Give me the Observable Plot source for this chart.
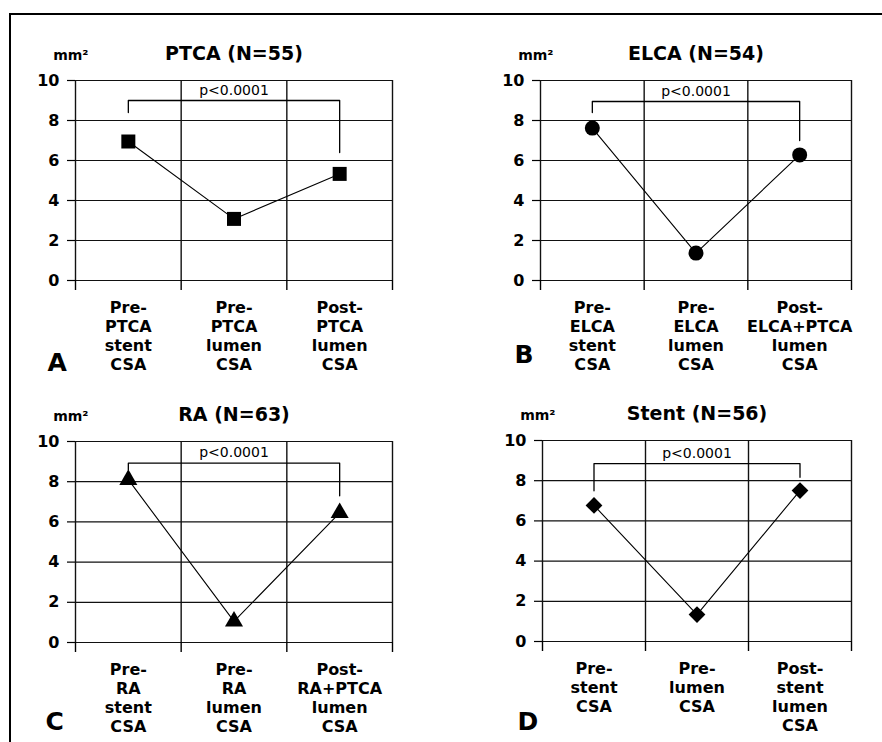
<!DOCTYPE html>
<html>
<head>
<meta charset="utf-8">
<script src="https://cdn.jsdelivr.net/npm/d3@7"></script>
<script src="https://cdn.jsdelivr.net/npm/@observablehq/plot@0.6"></script>
<style>
  html, body { margin: 0; padding: 0; background: #fff; }
  #wrap { position: relative; width: 882px; height: 742px; overflow: hidden; background: #fff; }
  #border { position: absolute; left: 9px; top: 13px; right: -10px; bottom: -10px; z-index: 5;
            border-left: 2px solid #000; border-top: 2px solid #000; pointer-events: none; }
  .panel { position: absolute; width: 441px; height: 371px; z-index: 1; }
</style>
</head>
<body>
<div id="wrap"><div id="border"></div></div>
<script>
// ---- data ----
const panelLetters = ["A", "B", "C", "D"];
const titles = ["PTCA (N=55)", "ELCA (N=54)", "RA (N=63)", "Stent (N=56)"];
const unitLabel = "mm²";
const pLabel = "p<0.0001";
const yTicks = [0, 2, 4, 6, 8, 10];

const categoriesA = ["Pre-\nPTCA\nstent\nCSA", "Pre-\nPTCA\nlumen\nCSA", "Post-\nPTCA\nlumen\nCSA"];
const categoriesB = ["Pre-\nELCA\nstent\nCSA", "Pre-\nELCA\nlumen\nCSA", "Post-\nELCA+PTCA\nlumen\nCSA"];
const categoriesC = ["Pre-\nRA\nstent\nCSA", "Pre-\nRA\nlumen\nCSA", "Post-\nRA+PTCA\nlumen\nCSA"];
const categoriesD = ["Pre-\nstent\nCSA", "Pre-\nlumen\nCSA", "Post-\nstent\nlumen\nCSA"];

const valuesA = [6.95, 3.08, 5.33];
const valuesB = [7.62, 1.37, 6.28];
const valuesC = [8.10, 1.05, 6.45];
const valuesD = [6.77, 1.34, 7.51];

// significance bracket: [left leg end, top, right leg end] in mm²
const bracketA = [8.4, 9.0, 6.4];
const bracketB = [8.4, 8.95, 7.0];
const bracketC = [8.6, 8.92, 7.3];
const bracketD = [7.5, 8.85, 8.17];

// ---- layout / style (not data) ----
const FONT = "DejaVu Sans";
const panelsCfg = [
  {left: 0,   top: 0,   ml: 75,  mr: 49, mt: 80, mb: 91,  cats: categoriesA, vals: valuesA, br: bracketA,
   symbol: "square", r: 7.9, rotate: 0, letterDx: -28, letterDy: 82},
  {left: 441, top: 0,   ml: 99,  mr: 31, mt: 80, mb: 91,  cats: categoriesB, vals: valuesB, br: bracketB,
   symbol: "circle", r: 7.5, rotate: 0, letterDx: -26, letterDy: 74},
  {left: 0,   top: 371, ml: 75,  mr: 49, mt: 70, mb: 100, cats: categoriesC, vals: valuesC, br: bracketC,
   symbol: "triangle", r: 6.7, rotate: 0, letterDx: -30, letterDy: 79},
  {left: 441, top: 371, ml: 101, mr: 31, mt: 69, mb: 101, cats: categoriesD, vals: valuesD, br: bracketD,
   symbol: "square", r: 6.7, rotate: 45, letterDx: -25, letterDy: 80}
];

const wrap = document.getElementById("wrap");

panelsCfg.forEach((cfg, k) => {
  const pos = cfg.cats.map((_, i) => i + 0.5);
  const bounds = d3.range(cfg.cats.length + 1);
  const pts = cfg.vals.map((v, i) => ({x: pos[i], y: v}));
  const [bl, bt, brr] = cfg.br;
  const bracket = [
    {x: pos[0], y: bl}, {x: pos[0], y: bt},
    {x: pos[pos.length - 1], y: bt}, {x: pos[pos.length - 1], y: brr}
  ];
  const chart = Plot.plot({
    width: 441, height: 371,
    marginLeft: cfg.ml, marginRight: cfg.mr, marginTop: cfg.mt, marginBottom: cfg.mb,
    x: {domain: [0, cfg.cats.length]},
    y: {domain: [0, 10]},
    style: {fontFamily: FONT, color: "#000", background: "transparent", overflow: "visible"},
    marks: [
      Plot.ruleY(yTicks, {x1: 0, x2: cfg.cats.length, stroke: "#111", strokeWidth: 1.2}),
      Plot.ruleX(bounds, {y1: 0, y2: 10, stroke: "#111", strokeWidth: 1.4}),
      Plot.axisY({ticks: yTicks, tickSize: 8, tickPadding: 8, fontSize: 16, fontWeight: "bold",
                  label: null, strokeWidth: 1.2}),
      Plot.axisX({ticks: bounds, tickSize: 10, tickFormat: () => "", label: null, strokeWidth: 1.4}),
      Plot.line(bracket, {x: "x", y: "y", stroke: "#000", strokeWidth: 1.3, curve: "linear"}),
      Plot.text([pLabel], {x: pos[1], y: bt, text: d => d, lineAnchor: "bottom", dy: -6,
                           fontSize: 14, fill: "#000"}),
      Plot.line(pts, {x: "x", y: "y", stroke: "#000", strokeWidth: 1.1}),
      Plot.dot(pts, {x: "x", y: "y", symbol: cfg.symbol, r: cfg.r, rotate: cfg.rotate,
                     fill: "#000", stroke: "none"}),
      Plot.text(cfg.cats, {x: (d, i) => pos[i], text: d => d, frameAnchor: "bottom",
                           lineAnchor: "top", dy: 19, lineHeight: 1.19,
                           fontSize: 16, fontWeight: "bold", fill: "#000"}),
      Plot.text([titles[k]], {frameAnchor: "top", lineAnchor: "middle", dy: -27, text: d => d,
                              fontSize: 19, fontWeight: "bold", fill: "#000"}),
      Plot.text([unitLabel], {frameAnchor: "top-left", lineAnchor: "middle", textAnchor: "end",
                              dx: 13, dy: -25, text: d => d, fontSize: 14, fontWeight: "bold",
                              fill: "#000"}),
      Plot.text([panelLetters[k]], {frameAnchor: "bottom-left", lineAnchor: "middle",
                                    dx: cfg.letterDx, dy: cfg.letterDy,
                                    text: d => d, fontSize: 25, fontWeight: "bold", fill: "#000"})
    ]
  });
  const div = document.createElement("div");
  div.className = "panel";
  div.style.left = cfg.left + "px";
  div.style.top = cfg.top + "px";
  div.appendChild(chart);
  wrap.appendChild(div);
});
</script>
</body>
</html>
